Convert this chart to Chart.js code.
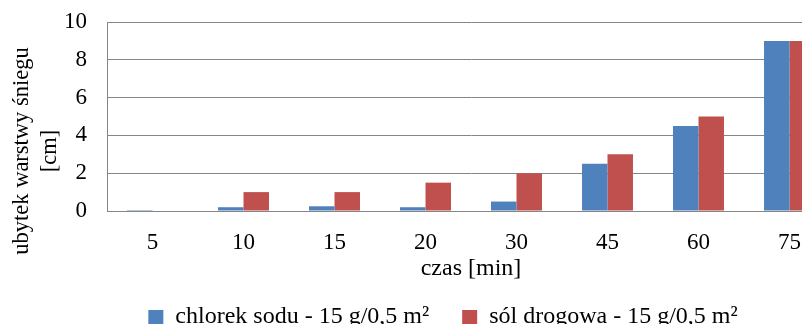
<!DOCTYPE html>
<html>
<head>
<meta charset="utf-8">
<script src="https://cdn.jsdelivr.net/npm/chart.js@4"></script>
<style>
  html, body { margin: 0; padding: 0; background: #fff; overflow: hidden; }
  #wrap { position: relative; width: 886px; height: 324px; }
</style>
</head>
<body>
<div id="wrap"><canvas id="c" width="886" height="324"></canvas></div>
<script>
// Time after spreading the salt [min]
const categories = ['5', '10', '15', '20', '30', '45', '60', '75'];
// Loss of snow depth [cm]
const chlorekSodu = [0.05, 0.2, 0.25, 0.2, 0.5, 2.5, 4.5, 9];
const solDrogowa  = [0, 1, 1, 1.5, 2, 3, 5, 9];
const yTicks = [0, 2, 4, 6, 8, 10];

const seriesNames = ['chlorek sodu - 15 g/0,5 m²', 'sól drogowa - 15 g/0,5 m²'];
const xTitle = 'czas [min]';
const yTitle = ['ubytek warstwy śniegu', '[cm]'];

const FONT = '"Liberation Serif", "Times New Roman", serif';
const GRID = '#868686';

// Two-line rotated axis title at the left edge
const yTitlePlugin = {
  id: 'yTitle',
  afterDraw(chart) {
    const ctx = chart.ctx;
    const cy = 151;
    ctx.save();
    ctx.fillStyle = '#000';
    ctx.font = '22.5px ' + FONT;
    ctx.textAlign = 'center';
    ctx.textBaseline = 'alphabetic';
    const baselines = [28, 56];
    yTitle.forEach((line, i) => {
      ctx.save();
      ctx.translate(baselines[i], cy);
      ctx.rotate(-Math.PI / 2);
      ctx.fillText(line, 0, 0);
      ctx.restore();
    });
    ctx.restore();
  }
};

new Chart(document.getElementById('c'), {
  type: 'bar',
  data: {
    labels: categories,
    datasets: [
      { label: seriesNames[0], data: chlorekSodu, backgroundColor: '#4F81BD', borderWidth: 0 },
      { label: seriesNames[1], data: solDrogowa,  backgroundColor: '#C0504D', borderWidth: 0 }
    ]
  },
  options: {
    responsive: false,
    animation: false,
    devicePixelRatio: 1,
    categoryPercentage: 0.56,
    barPercentage: 1,
    layout: { padding: { top: 22, left: 0, right: 0, bottom: -15 } },
    plugins: {
      tooltip: { enabled: false },
      legend: {
        position: 'bottom',
        labels: {
          boxWidth: 15,
          boxHeight: 14,
          padding: 33,
          color: '#000',
          font: { family: FONT, size: 24 }
        }
      }
    },
    scales: {
      x: {
        grid: { display: false, drawTicks: false },
        border: { display: true, color: GRID, width: 1 },
        ticks: { color: '#000', padding: 18, font: { family: FONT, size: 23 } },
        title: {
          display: true,
          text: xTitle,
          color: '#000',
          font: { family: FONT, size: 24, lineHeight: 1 },
          padding: { top: 0, bottom: -8.5 }
        },
        afterFit(s) { s.height = 61; }
      },
      y: {
        min: 0,
        max: 10,
        afterBuildTicks(s) { s.ticks = yTicks.map(v => ({ value: v })); },
        grid: { color: GRID, lineWidth: 1, drawTicks: false },
        border: { display: true, color: GRID, width: 1 },
        ticks: { color: '#000', padding: 20, font: { family: FONT, size: 23 } },
        afterFit(s) {
          s.width = 107;
          s.paddingTop = 0;
          s.paddingBottom = 0;
        }
      },
      yRight: {
        type: 'linear',
        position: 'right',
        display: true,
        grid: { display: false, drawTicks: false },
        border: { display: false },
        ticks: { display: false },
        afterFit(s) {
          s.width = 51;
          s.paddingTop = 0;
          s.paddingBottom = 0;
        }
      }
    }
  },
  plugins: [yTitlePlugin]
});
</script>
</body>
</html>
